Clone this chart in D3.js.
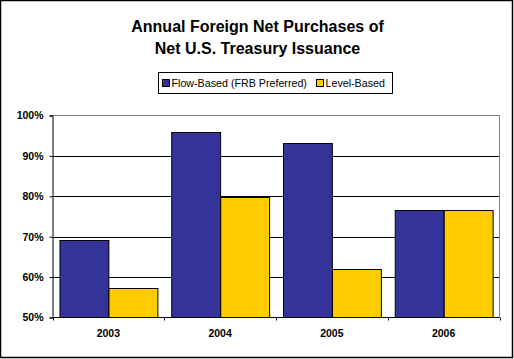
<!DOCTYPE html>
<html>
<head>
<meta charset="utf-8">
<script src="https://cdn.jsdelivr.net/npm/d3@7"></script>
<style>
  body { margin: 0; background: #fff; }
  svg { display: block; font-family: "Liberation Sans", Arial, sans-serif; }
</style>
</head>
<body>
<svg id="chart"></svg>
<script>
const years = ["2003", "2004", "2005", "2006"];
const flowBased = [69.3, 95.8, 93.3, 76.7];
const levelBased = [57.2, 79.9, 61.9, 76.7];
const seriesNames = ["Flow-Based (FRB Preferred)", "Level-Based"];
const seriesColors = ["#333399", "#FFCC00"];
const yTicks = [50, 60, 70, 80, 90, 100];

const width = 514, height = 359;
const svg = d3.select("#chart").attr("width", width).attr("height", height);

// outer frame
svg.append("rect")
    .attr("x", 0.5).attr("y", 0.5)
    .attr("width", width - 2).attr("height", height - 2)
    .attr("fill", "#fff").attr("stroke", "#000").attr("stroke-width", 1.5);

// title
const title = svg.append("text")
    .attr("x", 257.5)
    .attr("text-anchor", "middle")
    .style("font-size", "16px")
    .style("font-weight", "bold")
    .style("fill", "#000");
title.append("tspan").attr("x", 257.5).attr("y", 32).text("Annual Foreign Net Purchases of");
title.append("tspan").attr("x", 257.5).attr("y", 54).text("Net U.S. Treasury Issuance");

// legend
const legend = svg.append("g");
legend.append("rect")
    .attr("x", 158.5).attr("y", 72.5)
    .attr("width", 234).attr("height", 21)
    .attr("fill", "#fff").attr("stroke", "#000");
const legendX = [162.5, 316.5];
const legendTextX = [171.5, 325.5];
seriesNames.forEach((name, i) => {
    legend.append("rect")
        .attr("x", legendX[i]).attr("y", 79.5)
        .attr("width", 7).attr("height", 7)
        .attr("fill", seriesColors[i]).attr("stroke", "#000");
    legend.append("text")
        .attr("x", legendTextX[i]).attr("y", 87)
        .style("font-size", "10.7px")
        .text(name);
});

// plot area
const plot = { left: 52.5, right: 499.5, top: 115.5, bottom: 317.5 };

const x = d3.scaleBand()
    .domain(years)
    .range([plot.left, plot.right])
    .paddingInner(0.125)
    .paddingOuter(0.0625);

const xSub = d3.scaleBand()
    .domain([0, 1])
    .range([0, x.bandwidth()]);

const y = d3.scaleLinear()
    .domain([50, 100])
    .range([plot.bottom, plot.top]);

// gridlines
svg.append("g")
    .selectAll("line")
    .data(yTicks.slice(1, -1))
    .enter().append("line")
    .attr("x1", plot.left).attr("x2", plot.right)
    .attr("y1", d => Math.round(y(d)) + 0.5).attr("y2", d => Math.round(y(d)) + 0.5)
    .attr("stroke", "#000");

// plot border top/right in gray
svg.append("path")
    .attr("d", `M${plot.left},${plot.top}H${plot.right}V${plot.bottom}`)
    .attr("fill", "none").attr("stroke", "#808080");

// bars
const data = years.map((yr, i) => ({ year: yr, values: [flowBased[i], levelBased[i]] }));
const groups = svg.append("g")
    .selectAll("g")
    .data(data)
    .enter().append("g")
    .attr("transform", d => `translate(${x(d.year)},0)`);

groups.selectAll("rect")
    .data(d => d.values.map((v, i) => ({ v, i })))
    .enter().append("rect")
    .attr("x", d => Math.round(xSub(d.i)) + 0.5)
    .attr("y", d => Math.round(y(d.v)) + 0.5)
    .attr("width", xSub.bandwidth())
    .attr("height", d => plot.bottom - Math.round(y(d.v)) - 0.5)
    .attr("fill", d => seriesColors[d.i])
    .attr("stroke", "#000")
    .attr("stroke-width", 1);

// y axis
const yAxis = svg.append("g")
    .attr("transform", `translate(${plot.left},0)`)
    .call(d3.axisLeft(y).tickValues(yTicks).tickSize(3).tickFormat(d => d + "%"));
yAxis.select(".domain").attr("stroke", "#000");
yAxis.selectAll("text")
    .attr("x", -9)
    .style("font-family", "Liberation Sans, Arial, sans-serif")
    .style("font-size", "10.5px")
    .style("font-weight", "bold")
    .style("fill", "#000");

// x axis
const xAxis = svg.append("g")
    .attr("transform", `translate(0,${plot.bottom})`);
xAxis.append("line")
    .attr("x1", plot.left).attr("x2", plot.right)
    .attr("stroke", "#000");
const step = (plot.right - plot.left) / years.length;
xAxis.selectAll(".tk")
    .data(d3.range(years.length + 1))
    .enter().append("line")
    .attr("class", "tk")
    .attr("x1", d => Math.round(plot.left + d * step) + 0.5)
    .attr("x2", d => Math.round(plot.left + d * step) + 0.5)
    .attr("y1", 0).attr("y2", 3)
    .attr("stroke", "#000");
xAxis.selectAll("text")
    .data(years)
    .enter().append("text")
    .attr("x", d => x(d) + x.bandwidth() / 2)
    .attr("y", 19)
    .attr("text-anchor", "middle")
    .style("font-size", "10.5px")
    .style("font-weight", "bold")
    .text(d => d);
</script>
</body>
</html>
